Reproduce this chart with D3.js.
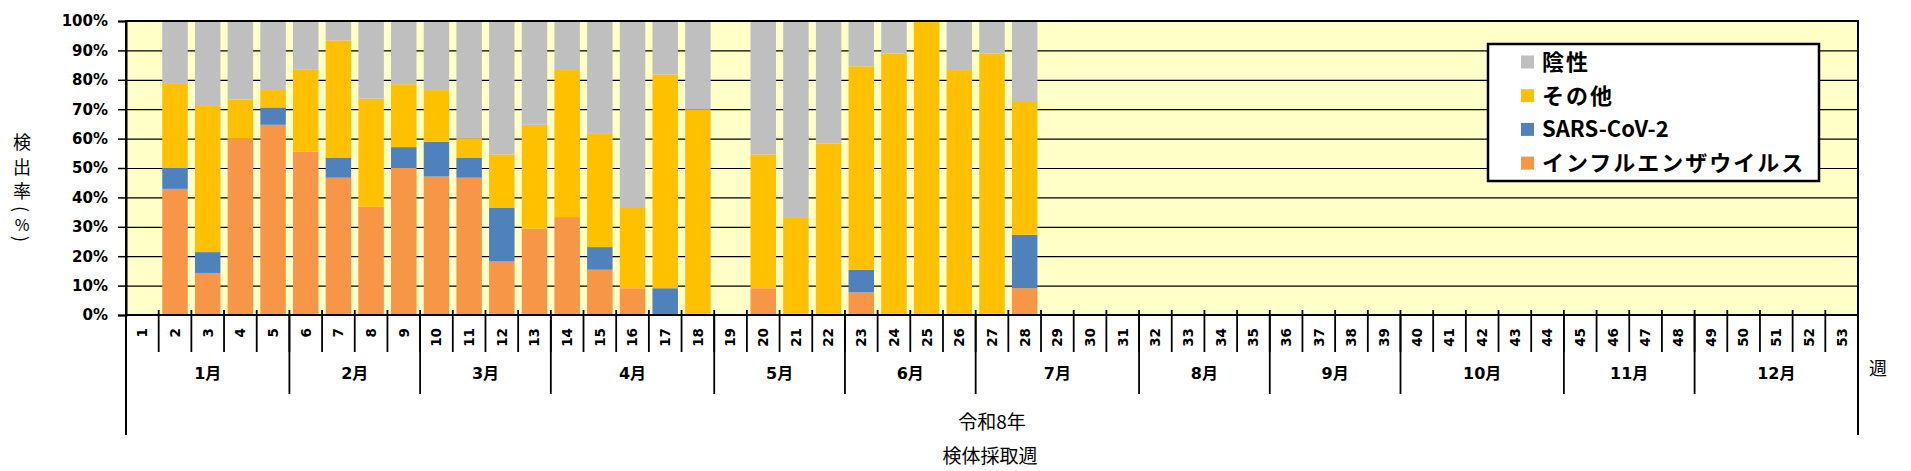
<!DOCTYPE html>
<html>
<head>
<meta charset="utf-8">
<script src="https://cdn.jsdelivr.net/npm/d3@7"></script>
<style>
  body{margin:0;background:#fff;}
  svg{display:block;}
</style>
</head>
<body>
<div id="chart-area"></div>
<script>

//Data (detection rate %, by week of specimen collection). null = no specimens
var weeks = d3.range(1,54).map(String)

var flu   = [null,42.9,14.3,60.0,64.7,55.6,46.7,36.8,50.0,47.1,46.7,18.2,29.4,33.3,15.4,9.1,0,0,null,9.1,0,0,7.7,0,0,0,0,9.1]
var sars  = [null,7.1,7.1,0,5.9,0,6.7,0,7.1,11.8,6.7,18.2,0,0,7.7,0,9.1,0,null,0,0,0,7.7,0,0,0,0,18.2]
var other = [null,28.6,50.0,13.3,5.9,27.8,40.0,36.8,21.4,17.6,6.7,18.2,35.3,50.0,38.5,27.3,72.7,70.0,null,45.5,33.3,58.3,69.2,88.9,100,83.3,88.9,45.5]
var neg   = [null,21.4,28.6,26.7,23.5,16.7,6.7,26.3,21.4,23.5,40.0,45.5,35.3,16.7,38.5,63.6,18.2,30.0,null,45.5,66.7,41.7,15.4,11.1,0,16.7,11.1,27.3]

var monthNames = ["1月","2月","3月","4月","5月","6月","7月","8月","9月","10月","11月","12月"]
var monthWeeks = [5,4,4,5,4,4,5,4,4,5,4,5]

var yTicks = [0,10,20,30,40,50,60,70,80,90,100]

var seriesKeys = ["flu","sars","other","neg"]
var seriesNames = {flu:"インフルエンザウイルス",sars:"SARS-CoV-2",other:"その他",neg:"陰性"}
var colors = {flu:"#F79646",sars:"#4F81BD",other:"#FFC000",neg:"#BFBFBF"}

//Margins
var margin = {top:21,bottom:156,left:126,right:53}
var W = 1911, H = 471
var width = W - margin.left - margin.right
var height = H - margin.top - margin.bottom

var table = weeks.map((w,i)=>{
    return {week:w,flu:flu[i]||0,sars:sars[i]||0,other:other[i]||0,neg:neg[i]||0,has:flu[i]!=null}
})
var stacked = d3.stack().keys(seriesKeys)(table)

//Scales
var x = d3.scaleBand().domain(weeks).range([0,width]).paddingInner(0.22).paddingOuter(0.11)
var xb = d3.scaleBand().domain(weeks).range([0,width])
var y = d3.scaleLinear().domain([0,100]).range([height,0])

var svg = d3.select("#chart-area").append("svg")
    .attr("width",W).attr("height",H)
    .style("font-family","'DejaVu Sans','Noto Sans CJK JP',sans-serif")

var canvas = svg.append("g")
    .attr("transform","translate(" + margin.left + "," + margin.top + ")")

//Plot background
canvas.append("rect")
    .attr("width",width).attr("height",height)
    .attr("fill","#FFFFC8")

//Gridlines
canvas.append("g")
    .call(d3.axisLeft(y).tickValues(yTicks).tickSize(-width).tickFormat(""))
    .call(g=>g.select(".domain").remove())
    .selectAll("line").attr("stroke","#000").attr("stroke-width",1.2)

//Bars
canvas.append("g").selectAll("g")
    .data(stacked).enter().append("g")
        .attr("fill",d=>colors[d.key])
    .selectAll("rect")
    .data(d=>d.filter(p=>p.data.has))
    .enter().append("rect")
        .attr("x",d=>x(d.data.week))
        .attr("width",x.bandwidth())
        .attr("y",d=>y(Math.min(100,d[1])))
        .attr("height",d=>y(d[0]) - y(Math.min(100,d[1])))

//Plot border
canvas.append("rect")
    .attr("width",width).attr("height",height)
    .attr("fill","none").attr("stroke","#000").attr("stroke-width",2)

//Y Axis
var yAxisGroup = canvas.append("g")
    .call(d3.axisLeft(y).tickValues(yTicks).tickSize(8).tickPadding(10).tickFormat(d=>d + "%"))
yAxisGroup.select(".domain").attr("stroke-width",2)
yAxisGroup.selectAll("line").attr("stroke-width",1.5)
yAxisGroup.selectAll("text")
    .attr("font-size","15px").attr("font-weight","bold").attr("fill","#000")
    .style("font-family","'DejaVu Sans',sans-serif")

//X Axis (week labels)
var xAxisGroup = canvas.append("g")
    .attr("transform","translate(0," + height + ")")
    .call(d3.axisBottom(x).tickSize(0))
xAxisGroup.select(".domain").remove()
xAxisGroup.selectAll("text")
    .attr("transform","rotate(-90)")
    .attr("x",-13).attr("y",0).attr("dy","0.36em")
    .attr("text-anchor","end")
    .attr("font-size","13.5px").attr("font-weight","bold").attr("fill","#000")
    .style("font-family","'DejaVu Sans',sans-serif")

//Week separators
canvas.append("g").selectAll("line")
    .data(weeks.slice(1)).enter().append("line")
        .attr("x1",d=>xb(d)).attr("x2",d=>xb(d))
        .attr("y1",height - 5).attr("y2",height + 37)
        .attr("stroke","#000").attr("stroke-width",1.8)

//Month labels and separators
var monthStart = []
monthWeeks.reduce((s,n)=>{ monthStart.push(s); return s + n },0)

canvas.append("g").selectAll("line")
    .data(monthStart.slice(1)).enter().append("line")
        .attr("x1",d=>xb(weeks[d])).attr("x2",d=>xb(weeks[d]))
        .attr("y1",height).attr("y2",height + 79)
        .attr("stroke","#000").attr("stroke-width",1.8)

canvas.append("g").selectAll("text")
    .data(monthNames).enter().append("text")
        .attr("x",(d,i)=>xb(weeks[monthStart[i]]) + monthWeeks[i]*xb.step()/2)
        .attr("y",height + 64)
        .attr("text-anchor","middle")
        .attr("font-size","16px").attr("font-weight","bold")
        .text(d=>d)

//Year bracket
canvas.append("line")
    .attr("x1",0).attr("x2",0).attr("y1",height).attr("y2",height + 120)
    .attr("stroke","#000").attr("stroke-width",2)
canvas.append("line")
    .attr("x1",width).attr("x2",width).attr("y1",height).attr("y2",height + 120)
    .attr("stroke","#000").attr("stroke-width",2)

canvas.append("text")
    .attr("x",width*0.5).attr("y",height + 114)
    .attr("text-anchor","middle")
    .attr("font-size","19px")
    .style("font-family","'Noto Sans CJK JP',sans-serif")
    .text("令和8年")

canvas.append("text")
    .attr("x",width + 20).attr("y",height + 60)
    .attr("text-anchor","middle")
    .attr("font-size","18px")
    .style("font-family","'Noto Sans CJK JP',sans-serif")
    .text("週")

//Axis titles
svg.append("text")
    .attr("x",(margin.left + width + margin.left)/2 - 2).attr("y",463)
    .attr("text-anchor","middle")
    .attr("font-size","19px")
    .style("font-family","'Noto Sans CJK JP',sans-serif")
    .text("検体採取週")

//Vertical y title: one glyph per slot, brackets turned sideways
var yChars = ["検","出","率","(","%",")"]
var yPos = [141,166,190,209,224,239]
svg.append("g").selectAll("text")
    .data(yChars).enter().append("text")
        .attr("transform",(d,i)=>"translate(22," + yPos[i] + ")" + ((d=="(" || d==")") ? " rotate(90)" : ""))
        .attr("text-anchor","middle")
        .attr("dominant-baseline","central")
        .attr("font-size",(d)=>d=="%" ? "16px" : "18px")
        .style("font-family","'Noto Sans CJK JP',sans-serif")
        .text(d=>d)

//Legend
var legend = svg.append("g").attr("transform","translate(1488,44)")
legend.append("rect")
    .attr("width",331).attr("height",137)
    .attr("fill","#fff").attr("stroke","#000").attr("stroke-width",2.5)

var legendKeys = ["neg","other","sars","flu"]
var items = legend.selectAll(".item")
    .data(legendKeys).enter().append("g")
        .attr("class","item")
        .attr("transform",(d,i)=>"translate(33," + (18 + i*33.7) + ")")
items.append("rect")
    .attr("x",0).attr("y",-6.5).attr("width",13).attr("height",13)
    .attr("fill",d=>colors[d])
items.append("text")
    .attr("x",21).attr("dy","0.36em")
    .attr("font-size","22px").attr("font-weight","bold")
    .attr("letter-spacing",d=>d=="sars" ? "0px" : "2px")
    .style("font-family","'Noto Sans CJK JP',sans-serif")
    .text(d=>seriesNames[d])

</script>
</body>
</html>
